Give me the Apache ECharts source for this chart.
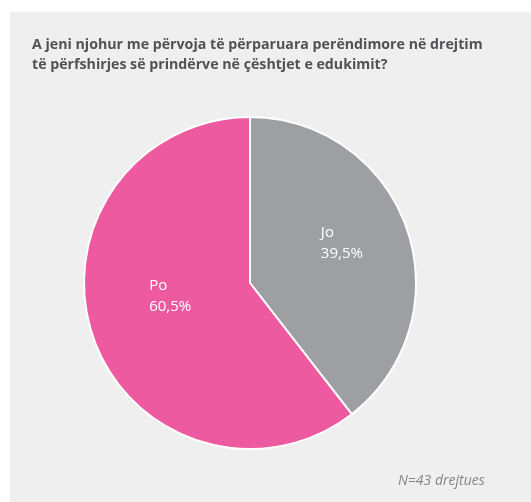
<!DOCTYPE html>
<html>
<head>
<meta charset="utf-8">
<script src="https://cdn.jsdelivr.net/npm/echarts@6/dist/echarts.min.js"></script>
<style>
  html, body { margin: 0; padding: 0; background: #ffffff; }
  #chart { width: 531px; height: 502px; }
</style>
</head>
<body>
<div id="chart"></div>
<script>
const categories = ['Jo', 'Po'];
const shares = [39.5, 60.5];
const sliceColors = ['#9e9fa3', '#ee5aa0'];
const titleText = 'A jeni njohur me përvoja të përparuara perëndimore në drejtim\ntë përfshirjes së prindërve në çështjet e edukimit?';
const noteText = 'N=43 drejtues';

// label nudges so the text sits where the original puts it
const labelOffsets = [[12, -12], [3, -15]];

const chart = echarts.init(document.getElementById('chart'));

const option = {
  backgroundColor: '#ffffff',
  graphic: [
    {
      type: 'rect',
      z: -10,
      shape: { x: 10, y: 12, width: 530, height: 500 },
      style: { fill: '#efefef' },
    },
    {
      type: 'text',
      left: 398,
      top: 474,
      style: {
        text: noteText,
        font: 'italic 14px "Open Sans", sans-serif',
        fill: '#858587',
      },
    },
  ],
  title: {
    text: titleText,
    left: 32,
    top: 35,
    padding: 0,
    textStyle: {
      fontFamily: '"Open Sans", sans-serif',
      fontWeight: 'bold',
      fontSize: 14.2,
      lineHeight: 20,
      color: '#525254',
    },
  },
  series: [
    {
      type: 'pie',
      center: [250, 283],
      radius: 166,
      startAngle: 90,
      clockwise: true,
      silent: true,
      itemStyle: { borderColor: '#ffffff', borderWidth: 2 },
      label: {
        position: 'inside',
        color: '#ffffff',
        formatter: (p) => `{t|${p.name}}\n{t|${p.value.toFixed(1).replace('.', ',')}%}`,
        rich: {
          t: {
            width: 45,
            align: 'left',
            color: '#ffffff',
            fontFamily: '"Open Sans", sans-serif',
            fontSize: 15,
            lineHeight: 21,
          },
        },
      },
      labelLine: { show: false },
      data: categories.map((name, i) => ({
        name,
        value: shares[i],
        itemStyle: { color: sliceColors[i] },
        label: { offset: labelOffsets[i] },
      })),
    },
  ],
};

chart.setOption(option);
</script>
</body>
</html>
